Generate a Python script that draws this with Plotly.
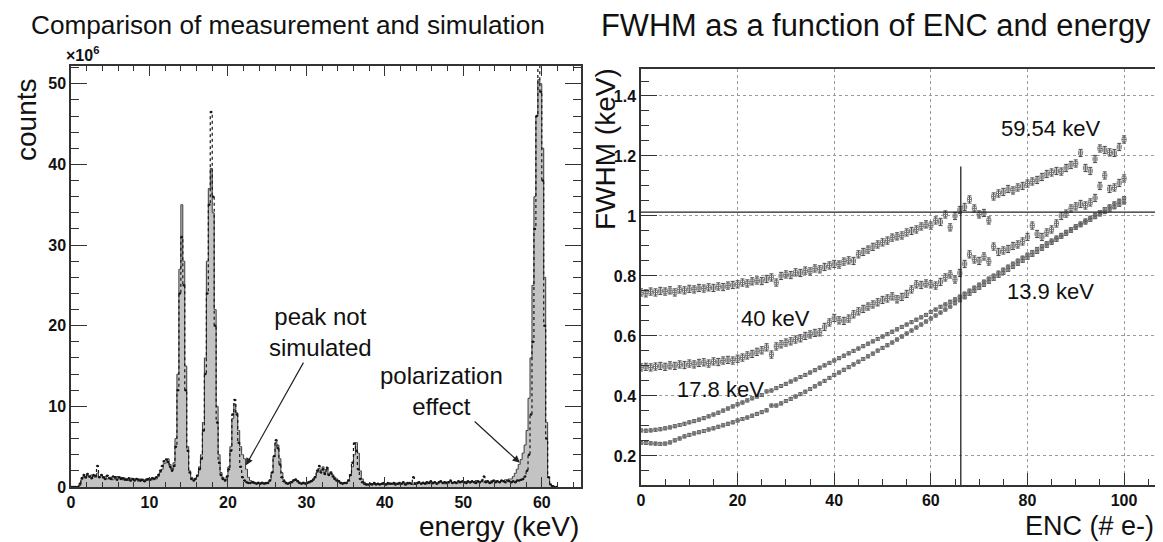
import plotly.graph_objects as go

# ---------------- data: left panel (energy spectrum, counts in units of 1e6) ----------------
bin_width_kev = 0.25  # histogram bin width (keV), first bin starts at 0 keV
meas_counts_e6 = [
    0, 0, 0, 0,
    0.2, 0.9, 1.3, 1.1,
    1.4, 1.2, 1.5, 1.3,
    1.2, 1.7, 1.3, 1.4,
    1.1, 1.3, 1.0, 1.2,
    1.2, 0.9, 1.1, 1.3,
    1.0, 1.2, 0.9, 1.1,
    1.0, 0.8, 1.1, 0.9,
    1.0, 0.9, 0.7, 1.0,
    0.8, 0.9, 1.0, 0.8,
    1.0, 0.9, 1.1, 1.0,
    1.3, 1.8, 2.2, 2.9,
    3.0, 3.5, 2.8, 2.2,
    3.0, 6.0, 14.0, 27.0,
    35.0, 28.0, 15.0, 5.0,
    2.0, 1.2, 1.0, 1.1,
    1.5, 2.5, 4.0, 8.0,
    16.0, 28.0, 37.0, 39.5,
    34.0, 22.0, 10.0, 4.0,
    1.8, 1.2, 0.9, 1.2,
    2.5, 5.0, 8.5, 10.3,
    9.2, 7.0, 5.0, 4.0,
    3.5, 2.2, 1.2, 0.8,
    0.7, 0.6, 0.5, 0.6,
    0.5, 0.6, 0.5, 0.4,
    0.6, 0.9, 1.8, 3.8,
    5.5, 5.2, 3.5, 1.8,
    0.9, 0.6, 0.5, 0.6,
    0.7, 0.9, 1.0, 0.8,
    0.6, 0.5, 0.6, 0.5,
    0.6, 0.7, 0.8, 1.0,
    1.3, 1.8, 2.3, 2.0,
    2.5, 1.8, 2.2, 1.6,
    1.9, 1.5, 1.2, 1.0,
    0.8, 0.6, 0.5, 0.5,
    0.6, 0.9, 1.4, 2.5,
    4.0, 5.5, 4.2, 2.0,
    1.0, 0.6, 0.4, 0.3,
    0.3, 0.4, 0.3, 0.4,
    0.3, 0.4, 0.4, 0.3,
    0.4, 0.3, 0.5, 0.4,
    0.3, 0.5, 0.4, 0.3,
    0.4, 0.4, 0.5, 0.3,
    0.5, 0.4, 0.3, 0.5,
    0.4, 0.5, 0.4, 0.6,
    0.5, 0.4, 0.6, 0.5,
    0.4, 0.6, 0.5, 0.5,
    0.6, 0.5, 0.4, 0.6,
    0.5, 0.7, 0.5, 0.6,
    0.6, 0.5, 0.7, 0.6,
    0.5, 0.7, 0.6, 0.5,
    0.7, 0.6, 0.8, 0.6,
    0.6, 0.7, 0.6, 0.8,
    0.7, 0.6, 0.8, 0.7,
    0.8, 0.7, 0.6, 0.8,
    0.7, 0.9, 0.8, 1.0,
    1.0, 1.3, 1.7, 2.2,
    2.8, 3.4, 4.2, 5.2,
    7.0, 11.0, 16.0, 25.0,
    36.0, 46.0, 50.5, 50.0,
    42.0, 26.0, 8.0, 1.2,
    0.3, 0.1, 0.0, 0.0,
]
sim_counts_e6 = [
    0, 0, 0, 0,
    0.4, 1.1, 1.5, 1.2,
    1.6, 1.3, 1.1, 1.5,
    1.4, 2.6, 1.2, 1.5,
    1.2, 1.0, 1.4, 1.1,
    1.0, 1.3, 1.2, 0.9,
    1.2, 1.0, 1.1, 0.9,
    0.9, 1.1, 0.8, 1.0,
    0.8, 1.0, 0.9, 0.8,
    0.9, 0.7, 0.9, 1.0,
    0.9, 1.1, 1.0, 1.2,
    1.5, 2.0, 2.6, 3.2,
    3.4, 3.1, 2.5, 2.0,
    2.6, 5.0, 12.0, 24.0,
    31.0, 25.0, 12.0, 4.5,
    1.8, 1.0, 0.8, 1.0,
    1.4, 2.2, 3.5, 7.0,
    14.0, 24.0, 35.0, 46.5,
    36.0, 20.0, 8.0, 3.0,
    1.5, 1.0, 0.8, 1.3,
    2.2, 4.5, 9.0, 10.8,
    9.0, 5.5, 2.5, 1.2,
    0.8, 0.6, 0.5, 0.5,
    0.6, 0.5, 0.4, 0.5,
    0.4, 0.5, 0.4, 0.5,
    0.5, 0.8, 1.8, 3.8,
    5.8, 4.8, 2.8, 1.2,
    0.7, 0.5, 0.4, 0.5,
    0.6, 0.8, 0.9, 0.7,
    0.5, 0.4, 0.5, 0.4,
    0.5, 0.6, 0.7, 0.9,
    1.2, 2.0, 2.6, 1.8,
    2.2, 1.6, 2.4, 1.5,
    1.7, 1.3, 1.0, 0.8,
    0.7, 0.5, 0.4, 0.5,
    0.5, 0.8, 1.5, 3.0,
    5.4, 4.5, 2.2, 1.0,
    0.6, 0.4, 0.3, 0.3,
    0.4, 0.3, 0.5, 0.3,
    0.4, 0.3, 0.4, 0.5,
    0.3, 0.5, 0.4, 0.4,
    0.5, 0.3, 0.4, 0.5,
    0.4, 0.6, 0.3, 0.5,
    0.5, 0.4, 1.2, 0.4,
    0.5, 0.6, 0.4, 0.5,
    0.4, 0.6, 0.5, 0.7,
    0.5, 0.6, 0.4, 0.6,
    0.7, 0.5, 0.6, 0.5,
    0.6, 0.8, 0.5, 0.6,
    0.5, 0.7, 0.6, 0.7,
    0.6, 0.5, 0.7, 0.6,
    0.7, 0.6, 0.5, 0.7,
    0.6, 0.8, 1.3, 0.6,
    0.7, 0.5, 0.6, 0.8,
    0.6, 0.7, 0.6, 0.8,
    0.7, 0.6, 0.8, 0.7,
    0.6, 0.7, 0.6, 0.8,
    0.8, 0.9, 1.0, 1.3,
    2.0, 4.0, 9.0, 18.0,
    32.0, 46.0, 52.5, 49.0,
    38.0, 20.0, 6.0, 1.2,
    0.3, 0.1, 0.0, 0.0,
]

# ---------------- data: right panel (FWHM vs ENC) ----------------
enc_step = 1  # ENC values 0, 1, 2, ... 100 electrons
fwhm_5954 = [
    0.745, 0.742, 0.748, 0.745, 0.750, 0.748, 0.752, 0.745, 0.755, 0.752,
    0.757, 0.755, 0.760, 0.758, 0.762, 0.760, 0.765, 0.763, 0.768, 0.770,
    0.772, 0.778, 0.775, 0.782, 0.785, 0.783, 0.790, 0.795, 0.778, 0.800,
    0.805, 0.803, 0.812, 0.810, 0.818, 0.815, 0.825, 0.822, 0.830, 0.835,
    0.840, 0.838, 0.848, 0.852, 0.850, 0.872, 0.880, 0.888, 0.897, 0.905,
    0.912, 0.918, 0.928, 0.932, 0.935, 0.945, 0.950, 0.955, 0.965, 0.972,
    0.968, 0.985, 0.980, 1.005, 0.962, 1.000, 1.020, 1.030, 1.055, 1.025,
    1.005, 1.010, 0.985, 1.065, 1.075, 1.080, 1.090, 1.085, 1.095, 1.100,
    1.108, 1.115, 1.120, 1.130, 1.140, 1.145, 1.150, 1.148, 1.160, 1.170,
    1.175, 1.210, 1.160, 1.150, 1.190, 1.225, 1.220, 1.212, 1.210, 1.230,
    1.255,
]
fwhm_40 = [
    0.495, 0.497, 0.495, 0.498, 0.500, 0.497, 0.502, 0.500, 0.505, 0.503,
    0.508, 0.505, 0.510, 0.512, 0.508, 0.515, 0.513, 0.518, 0.520, 0.518,
    0.524, 0.528, 0.535, 0.540, 0.547, 0.552, 0.562, 0.538, 0.565, 0.572,
    0.578, 0.582, 0.588, 0.592, 0.600, 0.605, 0.610, 0.612, 0.630, 0.645,
    0.660, 0.652, 0.650, 0.658, 0.672, 0.682, 0.690, 0.698, 0.705, 0.712,
    0.720, 0.725, 0.732, 0.722, 0.730, 0.740, 0.755, 0.772, 0.770, 0.775,
    0.772, 0.768, 0.780, 0.795, 0.805, 0.788, 0.810, 0.840, 0.872, 0.855,
    0.850, 0.865, 0.848, 0.898, 0.880, 0.885, 0.890, 0.900, 0.905, 0.915,
    0.930, 0.968, 0.940, 0.930, 0.945, 0.955, 0.975, 1.000, 1.008, 1.025,
    1.032, 1.040, 1.035, 1.045, 1.060, 1.100, 1.135, 1.090, 1.095, 1.110,
    1.125,
]
fwhm_178 = [
    0.285, 0.284, 0.285, 0.287, 0.289, 0.292, 0.295, 0.299, 0.303, 0.307,
    0.312, 0.316, 0.321, 0.326, 0.332, 0.338, 0.344, 0.351, 0.358, 0.365,
    0.372, 0.378, 0.385, 0.392, 0.398, 0.403, 0.415, 0.418, 0.426, 0.433,
    0.440, 0.448, 0.455, 0.463, 0.470, 0.478, 0.486, 0.494, 0.502, 0.510,
    0.518, 0.526, 0.534, 0.542, 0.550, 0.558, 0.566, 0.574, 0.582, 0.590,
    0.598, 0.606, 0.614, 0.622, 0.630, 0.638, 0.646, 0.654, 0.662, 0.670,
    0.680, 0.688, 0.697, 0.705, 0.714, 0.722, 0.731, 0.741, 0.751, 0.761,
    0.771, 0.781, 0.791, 0.801, 0.811, 0.821, 0.831, 0.841, 0.851, 0.861,
    0.871, 0.880, 0.890, 0.899, 0.909, 0.918, 0.928, 0.937, 0.947, 0.956,
    0.966, 0.975, 0.985, 0.994, 1.004, 1.013, 1.023, 1.032, 1.042, 1.051,
    1.060,
]
fwhm_139 = [
    0.244, 0.243, 0.242, 0.241, 0.240, 0.241, 0.245, 0.252, 0.258, 0.265,
    0.270, 0.275, 0.279, 0.283, 0.288, 0.292, 0.297, 0.302, 0.307, 0.312,
    0.318, 0.323, 0.328, 0.334, 0.340, 0.346, 0.352, 0.368, 0.368, 0.375,
    0.383, 0.390, 0.398, 0.406, 0.414, 0.423, 0.432, 0.441, 0.450, 0.460,
    0.470, 0.478, 0.487, 0.496, 0.505, 0.514, 0.523, 0.532, 0.541, 0.551,
    0.560, 0.569, 0.578, 0.588, 0.598, 0.608, 0.618, 0.628, 0.638, 0.648,
    0.658, 0.668, 0.678, 0.688, 0.698, 0.709, 0.719, 0.729, 0.740, 0.750,
    0.760, 0.770, 0.780, 0.790, 0.800, 0.810, 0.820, 0.830, 0.840, 0.850,
    0.860, 0.870, 0.880, 0.890, 0.900, 0.910, 0.920, 0.930, 0.940, 0.950,
    0.960, 0.969, 0.978, 0.987, 0.996, 1.005, 1.013, 1.021, 1.029, 1.037,
    1.045,
]
err_high = 0.012   # error bar half-height for 59.54 and 40 keV series
err_low = 0.005    # error bar half-height for 17.8 and 13.9 keV series
enc_cut = 66.2         # vertical reference line (ENC)
fwhm_cut = 1.013       # horizontal reference line (keV)

FONT = "Liberation Sans, Arial, sans-serif"
W, H = 1163, 542

fig = go.Figure()

# left panel
fig.add_trace(go.Scatter(
    y=meas_counts_e6, x0=bin_width_kev / 2, dx=bin_width_kev,
    mode="lines", line=dict(shape="hvh", color="#3c3c3c", width=1),
    fill="tozeroy", fillcolor="#c3c3c3", xaxis="x", yaxis="y", showlegend=False,
))
fig.add_trace(go.Scatter(
    y=sim_counts_e6, x0=bin_width_kev / 2, dx=bin_width_kev,
    mode="lines+markers", line=dict(shape="hvh", color="#151515", width=1.2, dash="dot"),
    marker=dict(size=2.5, color="#151515"), xaxis="x", yaxis="y", showlegend=False,
))

# right panel
series = [(fwhm_5954, err_high, 4), (fwhm_40, err_high, 4), (fwhm_178, err_low, 3), (fwhm_139, err_low, 3)]
for vals, err, msize in series:
    fig.add_trace(go.Scatter(
        y=vals, x0=0, dx=enc_step, mode="markers",
        marker=dict(symbol="square-open", size=msize, color="#707070", line=dict(width=0.8)),
        error_y=dict(type="constant", value=err, color="#4a4a4a", thickness=1, width=2),
        error_x=dict(type="constant", value=enc_step / 2, color="#777777", thickness=1, width=0),
        xaxis="x2", yaxis="y2", showlegend=False,
    ))

tickfont = dict(family=FONT, size=16, color="#111111", weight="bold")
axis_common = dict(showline=True, linecolor="#333333", linewidth=1.5, ticks="inside",
                   tickcolor="#333333", zeroline=False, tickfont=tickfont, automargin=False)

fig.update_layout(
    width=W, height=H, margin=dict(l=0, r=0, t=0, b=0),
    paper_bgcolor="white", plot_bgcolor="white",
    xaxis=dict(domain=[63 / W, 573 / W], range=[0, 65], anchor="y", dtick=10, tick0=0,
               ticklen=10, mirror="allticks", showgrid=False,
               minor=dict(dtick=2, ticklen=5, ticks="inside", tickcolor="#333333"), **axis_common),
    yaxis=dict(domain=[1 - 479 / H, 1 - 58 / H], range=[0, 52.2], anchor="x", dtick=10, tick0=0,
               ticklen=16, mirror="allticks", showgrid=False,
               minor=dict(dtick=2, ticklen=8, ticks="inside", tickcolor="#333333"), **axis_common),
    xaxis2=dict(domain=[633 / W, 1161 / W], range=[0, 109.3], anchor="y2", dtick=20, tick0=0,
                ticklen=12, mirror=True, showgrid=True, gridcolor="#9a9a9a", griddash="dot", gridwidth=1,
                minor=dict(dtick=5, ticklen=6, ticks="inside", tickcolor="#333333"), **axis_common),
    yaxis2=dict(domain=[1 - 477 / H, 1 - 61 / H], range=[0.103, 1.49], anchor="x2", dtick=0.2, tick0=0.2,
                ticklen=16, mirror=True, showgrid=True, gridcolor="#9a9a9a", griddash="dot", gridwidth=1,
                minor=dict(dtick=0.05, ticklen=8, ticks="inside", tickcolor="#333333"), **axis_common),
    shapes=[
        dict(type="line", xref="x2", yref="y2", x0=enc_cut, x1=enc_cut, y0=0.103, y1=1.165,
             line=dict(color="#222222", width=1.3)),
        dict(type="line", xref="x2", yref="y2", x0=0, x1=106.5, y0=fwhm_cut, y1=fwhm_cut,
             line=dict(color="#222222", width=1.3)),
    ],
)

def paper_text(text, px, py, size, xanchor="center", angle=0, bold=False):
    fig.add_annotation(text=text, x=px / W, y=1 - py / H, xref="paper", yref="paper",
                       xanchor=xanchor, yanchor="middle", showarrow=False, textangle=angle,
                       font=dict(family=FONT, size=size, color="#111111",
                                 weight="bold" if bold else "normal"))

paper_text("Comparison of measurement and simulation", 280, 17, 26.2)
paper_text("FWHM as a function of ENC and energy", 868, 17, 30.8)
paper_text("counts", 19, 112, 28, angle=-90)
paper_text("×10<sup>6</sup>", 56, 46, 16, xanchor="left", bold=True)
paper_text("energy (keV)", 573, 518, 28, xanchor="right")
paper_text("FWHM (keV)", 598, 141, 28, angle=-90)
paper_text("ENC (# e-)", 1148, 518, 27, xanchor="right")

# left panel labels with arrows (arrow starts at the text box, ends at the marked point)
def label_arrow(text, head_x, head_y, text_x, text_y):
    fig.add_annotation(text=text, x=head_x, y=head_y, ax=text_x, ay=text_y,
                       xref="x", yref="y", axref="x", ayref="y",
                       showarrow=True, arrowhead=2, arrowsize=1.2, arrowwidth=1.2,
                       arrowcolor="#222222", standoff=0,
                       font=dict(family=FONT, size=24, color="#111111"))

label_arrow("peak not<br>simulated", 22.3, 2.7, 31.8, 19.2)
label_arrow("polarization<br>effect", 57.2, 3.0, 47.2, 11.9)

def data_text(text, x, y, size):
    fig.add_annotation(text=text, x=x, y=y, xref="x2", yref="y2", showarrow=False,
                       xanchor="center", yanchor="middle",
                       font=dict(family=FONT, size=size, color="#111111"))

data_text("59.54 keV", 84.7, 1.29, 22)
data_text("40 keV", 27.9, 0.657, 22)
data_text("17.8 keV", 16.4, 0.42, 22)
data_text("13.9 keV", 84.7, 0.747, 22)

fig.write_html("out.html")
